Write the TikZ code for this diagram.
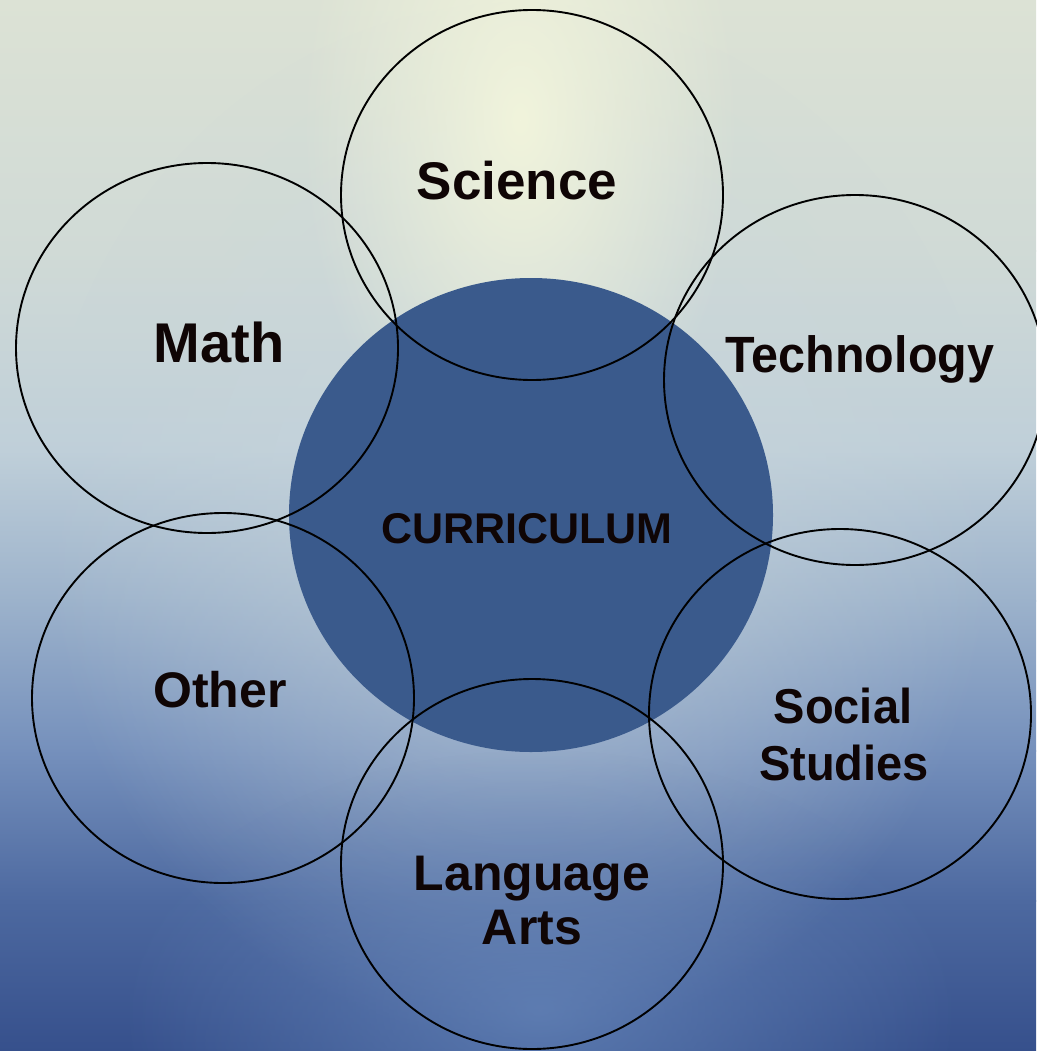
\documentclass[tikz,border=0pt]{standalone}
\usepackage{fontspec}
\setmainfont{Liberation Sans}
\usetikzlibrary{shapes.geometric,fadings}
\tikzfading[name=glowfade, inner color=transparent!0, outer color=transparent!100]
\definecolor{bg0}{HTML}{DCE2D5}
\definecolor{bg1}{HTML}{D0DAD6}
\definecolor{bg2}{HTML}{BFCFD9}
\definecolor{bg3}{HTML}{9CB2CB}
\definecolor{bg4}{HTML}{7590BC}
\definecolor{bg5}{HTML}{4D69A0}
\definecolor{bg6}{HTML}{36508C}
\definecolor{glowtop}{HTML}{F1F4DC}
\definecolor{glowmid}{HTML}{C9D6DC}
\definecolor{glowbot}{HTML}{6484B8}
\definecolor{core}{HTML}{3A5A8C}
\definecolor{ink}{HTML}{0F0505}
\tikzset{
  ring/.style={ellipse, draw=black, line width=1.9pt, minimum width=382pt, minimum height=370pt, inner sep=0pt},
  lab/.style={text=ink, inner sep=0pt, anchor=base, font=\bfseries},
}
\begin{document}
\begin{tikzpicture}[x=1pt,y=-1pt]
\useasboundingbox (0,0) rectangle (1036,1051);
% background
\shade[top color=bg0, bottom color=bg1] (0,0) rectangle (1036,251);
\shade[top color=bg1, bottom color=bg2] (0,250) rectangle (1036,451);
\shade[top color=bg2, bottom color=bg3] (0,450) rectangle (1036,601);
\shade[top color=bg3, bottom color=bg4] (0,600) rectangle (1036,751);
\shade[top color=bg4, bottom color=bg5] (0,750) rectangle (1036,901);
\shade[top color=bg5, bottom color=bg6] (0,900) rectangle (1036,1051);
\fill[glowmid, path fading=glowfade, fill opacity=0.7] (520,520) ellipse [x radius=480, y radius=520];
\fill[glowbot, path fading=glowfade, fill opacity=0.8] (540,1010) ellipse [x radius=420, y radius=260];
\fill[glowtop, path fading=glowfade] (520,120) ellipse [x radius=220, y radius=380];
% central circle
\node[ellipse, fill=core, minimum width=484pt, minimum height=474pt, inner sep=0pt] (core) at (531,515) {};
% rings
\node[ring] (sci) at (532,195) {};
\node[ring] (mat) at (207,348) {};
\node[ring] (tec) at (855,380) {};
\node[ring] (oth) at (223,698) {};
\node[ring] (soc) at (840,714) {};
\node[ring] (lan) at (532,864) {};
% labels
\node[lab, font=\bfseries\fontsize{53}{60}\selectfont] (tsci) at (517,200) {Science};
\node[lab, font=\bfseries\fontsize{56}{60}\selectfont] (tmat) at (219,362) {Math};
\node[lab, font=\bfseries\fontsize{51}{60}\selectfont] (ttec) at (860,372) {\scalebox{0.95}[1]{Technology}};
\node[lab, font=\bfseries\fontsize{43}{50}\selectfont] (tcur) at (527,543) {CURRICULUM};
\node[lab, font=\bfseries\fontsize{50}{60}\selectfont] (toth) at (220,707) {Other};
\node[lab, font=\bfseries\fontsize{49}{60}\selectfont] (tsoc1) at (843,723) {\scalebox{0.96}[1]{Social}};
\node[lab, font=\bfseries\fontsize{49}{60}\selectfont] (tsoc2) at (844,780) {\scalebox{0.96}[1]{Studies}};
\node[lab, font=\bfseries\fontsize{50}{60}\selectfont] (tlan1) at (532,890) {Language};
\node[lab, font=\bfseries\fontsize{50}{60}\selectfont] (tlan2) at (532,944) {Arts};
\end{tikzpicture}
\end{document}
